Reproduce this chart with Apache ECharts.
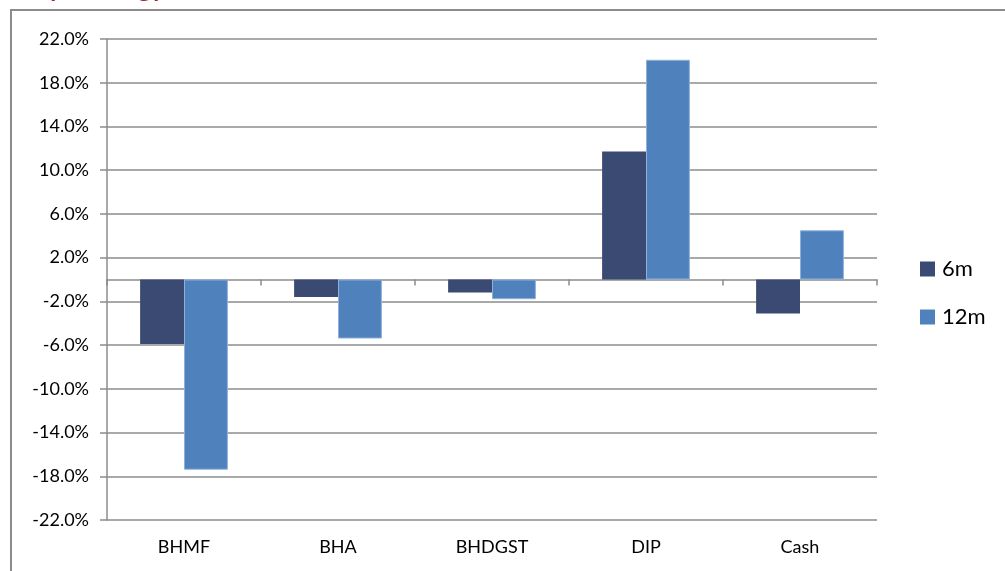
<!DOCTYPE html>
<html>
<head>
<meta charset="utf-8">
<script src="https://cdn.jsdelivr.net/npm/echarts@6/dist/echarts.min.js"></script>
<style>
  html, body { margin: 0; padding: 0; background: #ffffff; }
  #chart { width: 1005px; height: 571px; }
</style>
</head>
<body>
<div id="chart"></div>
<script>
// Return by strategy over two horizons (percent)
const categories = ['BHMF', 'BHA', 'BHDGST', 'DIP', 'Cash'];
const seriesNames = ['6m', '12m'];
const sixMonth = [-5.9, -1.6, -1.2, 11.7, -3.1];
const twelveMonth = [-17.4, -5.4, -1.8, 20.1, 4.5];
const yMin = -22;
const yMax = 22;
const yStep = 4;
const titleText = 'Returns by Strategy';

const FONT = 'Lato';
const chart = echarts.init(document.getElementById('chart'), null, { renderer: 'canvas' });

chart.setOption({
  animation: false,
  backgroundColor: '#ffffff',
  graphic: [
    {
      type: 'rect',
      shape: { x: 11, y: 10, width: 1100, height: 700 },
      style: { fill: 'none', stroke: '#8c8c8c', lineWidth: 2 },
      z: 0
    },
    {
      type: 'text',
      left: -62,
      top: -24,
      style: {
        text: titleText,
        font: 'bold 26px ' + FONT,
        fill: '#a3282b'
      },
      z: 10
    }
  ],
  grid: { left: 107, right: 128, top: 39, bottom: 51, containLabel: false },
  legend: {
    data: seriesNames,
    orient: 'vertical',
    left: 920,
    top: 258,
    icon: 'rect',
    itemWidth: 15,
    itemHeight: 15,
    itemGap: 26,
    padding: 0,
    itemStyle: { borderWidth: 0 },
    textStyle: { fontFamily: FONT, fontSize: 22, color: '#000', lineHeight: 22, padding: [0, 0, 0, 2] }
  },
  xAxis: [
    {
      type: 'category',
      data: categories,
      position: 'bottom',
      axisLine: { show: true, onZero: true, lineStyle: { color: '#8c8c8c', width: 1.5 } },
      axisTick: { show: true, length: 6, alignWithLabel: false, lineStyle: { color: '#8c8c8c', width: 1.5 } },
      axisLabel: { show: false },
      splitLine: { show: false }
    },
    {
      type: 'category',
      data: categories,
      position: 'bottom',
      axisLine: { show: false, onZero: false },
      axisTick: { show: false },
      axisLabel: { show: true, fontFamily: FONT, fontSize: 18, color: '#000', margin: 18 },
      splitLine: { show: false }
    }
  ],
  yAxis: {
    type: 'value',
    min: yMin,
    max: yMax,
    interval: yStep,
    axisLine: { show: true, lineStyle: { color: '#8c8c8c', width: 1.5 } },
    axisTick: { show: true, length: 7, lineStyle: { color: '#8c8c8c', width: 1.5 } },
    axisLabel: {
      fontFamily: FONT,
      fontSize: 18,
      color: '#000',
      margin: 18,
      formatter: v => v.toFixed(1) + '%'
    },
    splitLine: { show: true, lineStyle: { color: '#8c8c8c', width: 1.5 } }
  },
  series: [
    {
      name: seriesNames[0],
      type: 'bar',
      xAxisIndex: 0,
      data: sixMonth,
      barGap: '0%',
      barCategoryGap: '43%',
      itemStyle: { color: '#3a4a72' }
    },
    {
      name: seriesNames[1],
      type: 'bar',
      xAxisIndex: 0,
      data: twelveMonth,
      barGap: '0%',
      barCategoryGap: '43%',
      itemStyle: { color: '#4f81bd', borderColor: '#8eb1dc', borderWidth: 1 }
    }
  ]
});
</script>
</body>
</html>
